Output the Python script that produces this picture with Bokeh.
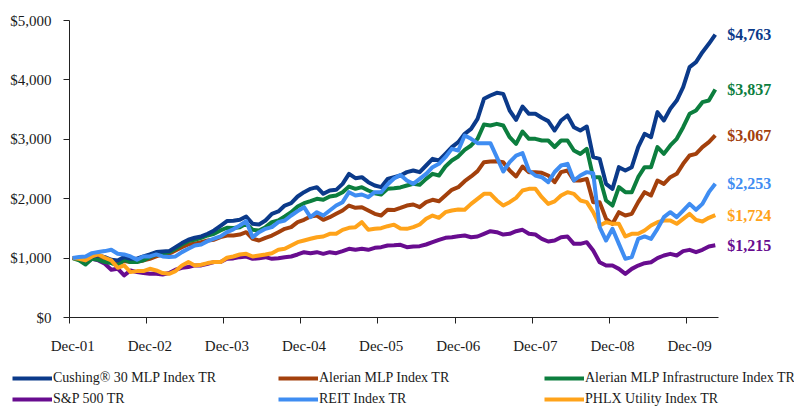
from bokeh.plotting import figure
from bokeh.layouts import column
from bokeh.models import (Range1d, FixedTicker, NumeralTickFormatter,
                          Legend, LegendItem, ColumnDataSource, LabelSet)
from bokeh.core.properties import value
from bokeh.embed import file_html
from bokeh.resources import INLINE

# Monthly index values, Dec-01 .. Apr-10 (growth of $1,000)
cushing = [1000,1000,961,1028,1045,1017,972,961,1017,989,989,1028,1062,1101,1112,1118,1185,1253,1309,1343,1365,1410,1466,1544,1623,1630,
           1644,1700,1577,1566,1633,1745,1785,1885,1925,2037,2110,2166,2194,2082,2138,2149,2250,2419,2346,2362,2278,2222,2194,2334,2362,2391,
           2447,2475,2447,2559,2671,2643,2755,2868,2952,3092,3176,3345,3681,3737,3782,3765,3485,3328,3552,3429,3429,3362,3306,3148,
           3317,3401,3204,3148,3215,2699,2671,2250,2166,2531,2475,2531,2868,3092,3036,3457,3317,3513,3653,3878,4214,4298,4467,4607,4763]
alerian_mlp = [1000,989,961,1006,989,961,950,916,950,933,944,961,989,1028,1062,1073,1129,1185,1230,1241,1269,1297,1309,1353,1381,1381,
               1397,1436,1325,1296,1342,1380,1436,1493,1521,1605,1644,1700,1717,1644,1689,1745,1801,1885,1846,1857,1801,1745,1717,1813,1808,1845,
               1885,1902,1857,1942,1981,1958,2054,2149,2194,2295,2374,2464,2615,2626,2632,2615,2475,2374,2542,2447,2447,2436,2391,2278,
               2447,2475,2306,2306,2334,1942,1942,1661,1577,1773,1717,1745,1942,2110,2054,2306,2250,2362,2419,2587,2727,2755,2868,2952,3067]
alerian_infra = [1000,961,893,989,972,933,916,877,972,933,933,961,1017,1062,1073,1101,1157,1230,1286,1309,1342,1381,1410,1466,1511,1505,
                 1521,1577,1476,1465,1521,1605,1633,1700,1773,1869,1925,1958,1998,1981,2037,2054,2110,2205,2166,2194,2138,2093,2071,2166,2175,2190,
                 2222,2250,2233,2334,2419,2391,2542,2643,2711,2822,2896,3008,3249,3232,3260,3232,3036,2924,3131,3008,3008,2980,2980,2870,
                 2980,2980,2811,2755,2839,2362,2362,1970,1885,2194,2110,2110,2362,2531,2531,2868,2755,2896,3008,3204,3429,3485,3625,3653,3837]
sp500 = [1000,989,950,989,961,905,804,821,708,792,764,748,736,736,725,748,804,837,849,877,877,905,933,933,989,995,
         1016,1027,988,999,1016,988,999,1016,1027,1061,1100,1083,1100,1072,1100,1083,1117,1156,1139,1156,1139,1173,1184,1212,1215,1224,
         1184,1195,1201,1229,1268,1308,1342,1352,1369,1380,1352,1364,1409,1453,1436,1397,1409,1453,1476,1409,1397,1325,1279,1296,
         1352,1364,1240,1240,1268,1128,931,875,875,819,735,819,875,915,931,999,1044,1072,1044,1117,1139,1100,1139,1195,1215]
reit = [1000,1017,1028,1084,1101,1118,1140,1073,1062,1028,972,1028,1028,1062,1028,1017,1028,1101,1157,1213,1230,1286,1326,1365,1438,1485,
        1549,1622,1352,1436,1493,1521,1605,1633,1717,1790,1857,1689,1773,1717,1801,1885,1942,2110,2054,2071,2026,2110,2110,2239,2340,2400,
        2306,2250,2334,2419,2531,2587,2699,2839,2811,3064,3008,2935,2935,2935,2699,2458,2615,2727,2767,2475,2391,2362,2278,2450,
        2559,2587,2306,2391,2447,2430,1521,1296,1493,1240,988,1016,1324,1364,1324,1493,1689,1773,1689,1801,1913,1813,1913,2110,2253]
phlx = [1000,989,961,1028,1062,1006,961,837,877,764,781,781,820,792,748,736,781,877,933,877,888,916,933,933,1006,1027,
        1061,1072,1027,1044,1061,1083,1139,1156,1212,1268,1296,1325,1352,1364,1409,1409,1476,1510,1521,1605,1476,1493,1504,1537,1563,1500,
        1493,1521,1566,1661,1717,1678,1773,1801,1818,1813,1913,1998,2082,2082,1970,1885,1942,2015,2138,2166,2166,2026,1913,1955,
        2054,2110,2082,1970,1942,1773,1549,1605,1577,1577,1364,1409,1409,1465,1549,1605,1633,1633,1577,1661,1745,1644,1616,1678,1724]

months = list(range(len(cushing)))  # 0 = Dec-01, monthly
tick_labels = ["Dec-01", "Dec-02", "Dec-03", "Dec-04", "Dec-05", "Dec-06", "Dec-07", "Dec-08", "Dec-09"]
tick_months = [0, 12, 24, 36, 48, 60, 72, 84, 96]
y_ticks = [0, 1000, 2000, 3000, 4000, 5000]

series_names = ["Cushing\u00ae 30 MLP Index TR", "Alerian MLP Index TR", "Alerian MLP Infrastructure Index TR",
                "S&P 500 TR", "REIT Index TR", "PHLX Utility Index TR"]
series_data = [cushing, alerian_mlp, alerian_infra, sp500, reit, phlx]
series_colors = ["#0B3A8A", "#A3400C", "#0C7E3E", "#680C8F", "#3F8DF2", "#FFA31A"]

for s in series_data:
    assert len(s) == len(months), len(s)

FONT = "Liberation Serif"
W = 794
H1, H2 = 356, 50
n = len(months)
px_per_month = 649.0 / n
frame_w = W - 69 - 20
x_end = -0.5 + frame_w / px_per_month   # room on the right for end labels

p = figure(width=W, height=H1, output_backend="svg", toolbar_location=None,
           x_range=Range1d(-0.5, x_end), y_range=Range1d(0, 5000),
           min_border_left=69, min_border_right=20, min_border_top=20, min_border_bottom=H1 - 317)
p.frame_align = False
p.xgrid.visible = False
p.ygrid.visible = False
p.outline_line_color = None

ya = p.yaxis[0]
ya.ticker = FixedTicker(ticks=y_ticks)
ya.formatter = NumeralTickFormatter(format="$0,0")
ya.major_tick_out = 6
ya.major_tick_in = 0
ya.minor_tick_out = 0
ya.minor_tick_in = 0
ya.axis_line_color = "#222222"
ya.major_tick_line_color = "#222222"
ya.major_label_text_font = FONT
ya.major_label_text_font_size = "15px"
ya.major_label_text_color = "#1a1a1a"
ya.major_label_standoff = 12

xa = p.xaxis[0]
xa.bounds = (-0.5, n - 0.5)
xa.ticker = FixedTicker(ticks=tick_months, minor_ticks=[m - 0.5 for m in tick_months])
xa.major_label_overrides = {m: l for m, l in zip(tick_months, tick_labels)}
xa.major_tick_out = 0
xa.major_tick_in = 0
xa.minor_tick_out = 6
xa.minor_tick_in = 0
xa.minor_tick_line_color = "#222222"
xa.axis_line_color = "#222222"
xa.major_label_text_font = FONT
xa.major_label_text_font_size = "15px"
xa.major_label_text_color = "#1a1a1a"
xa.major_label_standoff = 14

draw_order = [3, 1, 2, 0, 5, 4]
for k in draw_order:
    p.line(months, series_data[k], line_color=series_colors[k], line_width=4, line_join="round")

last_vals = [s[-1] for s in series_data]
src = ColumnDataSource(dict(x=[months[-1]] * 6, y=last_vals,
                            text=["${:,}".format(v) for v in last_vals], color=series_colors))
p.add_layout(LabelSet(x="x", y="y", text="text", source=src, text_color="color", x_offset=12,
                      text_align="left", text_baseline="middle", text_font=value(FONT),
                      text_font_style="bold", text_font_size="16px"))

# legend strip (its lines lie outside its own view; only the legend swatches show)
lg = figure(width=W, height=H2, output_backend="svg", toolbar_location=None,
            x_range=Range1d(0, 1), y_range=Range1d(0, 1),
            min_border_left=0, min_border_right=0, min_border_top=0, min_border_bottom=0)
lg.frame_align = False
lg.axis.visible = False
lg.xgrid.visible = False
lg.ygrid.visible = False
lg.outline_line_color = None
swatches = [lg.line(months, s, line_color=c, line_width=4) for s, c in zip(series_data, series_colors)]
legend = Legend(items=[LegendItem(label=nm, renderers=[r]) for nm, r in zip(series_names, swatches)],
                location=(12, -2), orientation="horizontal", ncols=3,
                glyph_width=40, glyph_height=18, label_standoff=1, label_width=222,
                label_height=18, spacing=3, padding=0, margin=0,
                border_line_alpha=0, background_fill_alpha=0,
                label_text_font=FONT, label_text_font_size="14px", label_text_color="#1a1a1a")
lg.add_layout(legend, "center")

layout = column(p, lg, spacing=0)
open("out.html", "w").write(file_html(layout, INLINE))
